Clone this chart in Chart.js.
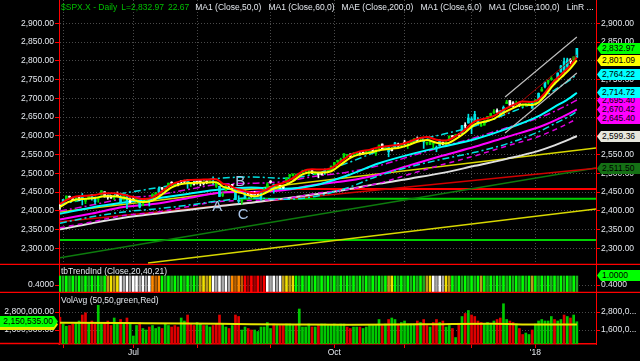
<!DOCTYPE html>
<html>
<head>
<meta charset="utf-8">
<script src="https://cdn.jsdelivr.net/npm/chart.js@4.4.1/dist/chart.umd.min.js"></script>
<style>
  html, body { margin: 0; padding: 0; background: #000; overflow: hidden; }
  body { width: 640px; height: 361px; position: relative; font-family: "Liberation Sans", Arial, sans-serif; }
  canvas { position: absolute; left: 0; }
  .lbl { position: absolute; white-space: nowrap; font-size: 8.5px; line-height: 10px; color: #e4e8ee; }
  .lbl span { margin-right: 7px; }
  .lbl span.g { margin-right: 4px; color: #00c000; }
  .tag { position: absolute; height: 11px; line-height: 11px; font-size: 8.5px; color: #000; white-space: nowrap; box-sizing: border-box; }
  .tagR { clip-path: polygon(0 50%, 4px 0, 100% 0, 100% 100%, 4px 100%); padding-left: 5px; }
  .tagL { clip-path: polygon(0 0, calc(100% - 4px) 0, 100% 50%, calc(100% - 4px) 100%, 0 100%); text-align: right; padding-right: 5px; }
  .wave { position: absolute; font-size: 15px; line-height: 15px; color: #a9c4e6; transform: translate(-50%, -50%); }
</style>
</head>
<body>
<canvas id="cPrice" width="640" height="265" style="top:0"></canvas>
<canvas id="cTrend" width="640" height="28" style="top:265px"></canvas>
<canvas id="cVol" width="640" height="68" style="top:293px"></canvas>
<div class="lbl" style="left:61px;top:2px"><span class="g">$SPX.X - Daily</span><span class="g">L=2,832.97</span><span class="g" style="margin-right:6px">22.67</span><span>MA1 (Close,50,0)</span><span>MA1 (Close,60,0)</span><span>MAE (Close,200,0)</span><span>MA1 (Close,6,0)</span><span>MA1 (Close,100,0)</span><span>LinR ...</span></div>
<div class="lbl" style="left:61px;top:266px">tbTrendInd (Close,20,40,21)</div>
<div class="lbl" style="left:61px;top:295px">VolAvg (50,50,green,Red)</div>
<div id="over"></div>
<script>
// daily bars, 31 May 2017 .. 22 Jan 2018 (index = trading day)
const closes = [
  2411.8,2430.1,2439.1,2436.1,2429.3,2433.1,2433.8,2431.8,2429.4,2440.4,
  2437.9,2432.5,2433.2,2453.5,2437.0,2435.6,2434.5,2438.3,2439.1,2419.4,
  2440.7,2419.7,2423.4,2429.0,2432.5,2409.8,2425.2,2427.4,2425.5,2443.3,
  2447.8,2459.3,2459.1,2460.6,2473.8,2473.5,2472.5,2469.9,2477.1,2477.8,
  2475.4,2472.1,2470.3,2476.4,2477.6,2472.2,2476.8,2480.9,2474.9,2474.0,
  2438.2,2441.3,2465.8,2464.6,2468.1,2430.0,2425.6,2428.4,2452.5,2444.0,
  2439.0,2443.1,2444.2,2446.3,2457.6,2471.7,2476.6,2457.9,2465.5,2465.1,
  2461.4,2488.1,2496.5,2498.4,2495.6,2500.2,2503.9,2506.7,2508.2,2500.6,
  2502.2,2496.7,2496.8,2507.0,2510.1,2519.4,2529.1,2534.6,2537.7,2552.1,
  2549.3,2544.7,2550.6,2555.2,2550.9,2553.2,2557.6,2559.4,2561.3,2562.1,
  2575.2,2565.0,2569.1,2557.2,2560.4,2581.1,2572.8,2575.3,2579.4,2579.9,
  2587.8,2591.1,2590.6,2594.4,2584.6,2582.3,2584.8,2578.9,2564.6,2585.6,
  2578.9,2582.1,2599.0,2597.1,2602.4,2601.4,2627.0,2626.1,2647.6,2642.2,
  2639.4,2629.6,2629.3,2637.0,2651.5,2660.0,2664.1,2662.9,2652.0,2675.8,
  2690.2,2681.5,2679.3,2684.6,2683.3,2680.5,2682.6,2687.5,2673.6,2695.8,
  2713.1,2724.0,2743.2,2747.7,2751.3,2748.2,2767.6,2786.2,2776.4,2802.6,
  2798.0,2810.3,2833.0
];
const opens = [
  2415.6,2415.6,2431.3,2437.8,2432.0,2432.4,2434.3,2436.4,2425.6,2434.2,
  2443.8,2424.1,2431.2,2442.6,2450.7,2439.3,2437.4,2434.2,2443.3,2436.0,
  2428.7,2442.4,2429.2,2431.2,2430.8,2423.4,2413.5,2424.5,2427.4,2435.8,
  2444.0,2449.2,2459.5,2455.9,2463.9,2475.6,2467.4,2472.0,2477.9,2479.2,
  2482.8,2469.1,2475.9,2477.1,2480.4,2476.0,2476.9,2477.1,2478.4,2465.4,
  2465.4,2441.0,2454.0,2468.7,2468.6,2462.0,2427.6,2425.5,2433.8,2444.9,
  2447.9,2444.7,2447.4,2431.9,2446.1,2462.7,2477.1,2470.4,2458.9,2468.1,
  2462.3,2474.5,2491.9,2493.9,2494.6,2495.6,2502.5,2506.3,2506.8,2507.2,
  2497.3,2499.4,2501.0,2505.2,2503.4,2509.0,2521.2,2530.3,2534.1,2540.9,
  2547.7,2551.4,2549.0,2550.3,2552.9,2555.7,2555.6,2557.2,2562.9,2553.4,
  2567.6,2578.1,2568.7,2566.5,2565.0,2570.3,2577.8,2575.0,2583.2,2579.5,
  2581.9,2587.5,2592.1,2592.0,2584.0,2580.2,2576.5,2577.8,2569.4,2572.7,
  2582.9,2579.5,2589.2,2600.3,2600.4,2602.7,2605.9,2627.8,2633.9,2645.1,
  2657.2,2639.8,2626.2,2628.4,2646.2,2652.2,2661.1,2667.6,2665.9,2660.6,
  2685.9,2694.0,2688.0,2683.0,2684.2,2679.1,2682.1,2686.1,2689.2,2683.7,
  2697.9,2719.3,2731.3,2742.7,2751.2,2745.6,2752.0,2770.2,2798.0,2785.2,
  2802.4,2802.6,2809.2
];
const highs = [
  2415.8,2430.1,2440.2,2439.5,2436.2,2435.3,2439.3,2446.2,2431.9,2441.5,
  2443.8,2433.9,2433.2,2453.8,2450.7,2442.2,2441.6,2441.0,2450.4,2442.0,
  2442.9,2442.4,2432.7,2439.0,2434.8,2424.3,2426.9,2432.3,2429.3,2445.8,
  2449.3,2463.5,2462.8,2460.9,2473.8,2477.6,2472.5,2473.1,2481.2,2481.7,
  2484.0,2473.5,2477.0,2478.5,2480.4,2476.0,2480.0,2480.9,2490.9,2474.4,
  2465.5,2448.1,2468.2,2468.7,2470.0,2462.0,2440.3,2430.6,2454.8,2448.9,
  2450.4,2451.7,2449.1,2449.2,2460.6,2475.0,2480.4,2471.9,2467.1,2468.6,
  2467.1,2488.9,2496.8,2498.4,2498.4,2500.2,2508.3,2507.8,2508.9,2507.2,
  2503.5,2502.5,2503.5,2511.8,2510.8,2519.4,2529.2,2535.1,2540.5,2552.5,
  2549.4,2551.8,2555.2,2555.2,2555.3,2557.7,2559.7,2559.7,2564.1,2562.4,
  2575.4,2578.3,2572.2,2567.4,2567.5,2582.9,2580.5,2578.0,2588.4,2581.1,
  2588.4,2593.4,2597.0,2594.4,2586.5,2583.2,2587.7,2579.7,2572.8,2590.1,
  2583.0,2584.6,2600.0,2600.9,2604.2,2606.4,2627.7,2634.9,2657.7,2650.6,
  2665.2,2648.7,2634.4,2640.5,2651.7,2660.3,2669.7,2671.9,2668.1,2679.6,
  2694.9,2694.2,2691.0,2692.6,2685.4,2682.7,2685.6,2687.7,2692.1,2695.9,
  2714.4,2729.3,2743.5,2748.5,2759.1,2750.8,2767.6,2787.9,2807.5,2807.0,
  2805.8,2810.3,2833.0
];
const lows = [
  2403.6,2413.9,2427.8,2434.3,2428.1,2424.8,2427.4,2415.7,2419.0,2430.8,
  2428.3,2418.5,2422.9,2441.8,2436.6,2430.7,2433.3,2430.0,2437.0,2419.4,
  2428.7,2405.7,2421.6,2428.7,2421.1,2407.7,2413.5,2422.0,2412.8,2435.8,
  2441.4,2446.7,2455.6,2450.3,2463.9,2468.4,2465.1,2466.3,2474.9,2474.9,
  2459.9,2464.7,2468.4,2471.1,2466.5,2468.9,2472.1,2475.9,2470.3,2462.1,
  2437.8,2437.9,2454.0,2460.7,2459.8,2430.0,2420.7,2417.4,2433.8,2441.4,
  2436.2,2441.9,2439.0,2428.2,2446.1,2462.7,2473.9,2447.0,2459.7,2460.3,
  2459.4,2474.5,2488.0,2492.1,2491.4,2493.2,2499.9,2503.2,2496.3,2499.0,
  2496.5,2488.0,2495.1,2496.8,2502.9,2507.0,2520.4,2528.9,2533.7,2540.0,
  2543.8,2541.6,2544.4,2547.8,2548.3,2552.0,2554.9,2554.7,2559.2,2547.9,
  2565.8,2564.3,2565.6,2544.0,2559.6,2565.9,2572.0,2572.6,2576.8,2566.2,
  2576.8,2585.7,2584.4,2585.7,2566.3,2575.6,2576.5,2566.6,2557.5,2572.7,
  2576.0,2576.6,2589.2,2595.7,2600.4,2598.9,2605.9,2620.3,2633.9,2605.5,
  2639.0,2627.7,2624.8,2628.4,2644.1,2651.5,2659.8,2662.9,2652.0,2659.1,
  2685.9,2680.7,2676.1,2682.4,2678.1,2677.9,2678.9,2682.7,2673.6,2682.4,
  2697.8,2719.1,2727.9,2737.6,2747.9,2736.1,2752.0,2769.6,2768.6,2778.4,
  2792.6,2798.2,2808.1
];
const volumes = [
  2450000,2000000,1850000,1900000,2000000,2100000,2200000,2600000,2750000,2100000,
  2200000,2000000,3250000,2000000,2100000,2200000,1900000,2400000,2000000,2300000,
  2100000,2400000,2000000,1200000,1900000,2100000,1700000,1600000,1800000,1900000,
  1700000,1800000,1700000,2000000,1900000,1800000,1900000,1800000,2400000,2200000,
  2600000,2000000,1900000,2100000,2000000,1900000,1900000,1800000,1900000,2000000,
  2600000,2000000,1800000,1700000,1900000,2600000,2500000,1600000,1800000,1700000,
  1600000,1600000,1500000,1800000,1800000,2100000,1700000,2000000,1900000,1900000,
  1900000,2000000,2000000,1900000,1900000,3000000,1800000,1800000,2000000,1800000,
  1800000,1900000,2000000,2000000,1900000,1900000,2000000,1900000,2000000,2000000,
  1800000,1700000,1800000,1800000,1800000,1700000,1800000,1900000,1900000,1900000,
  2300000,1900000,2000000,2300000,2400000,2300000,2000000,2100000,2200000,2000000,
  2000000,2000000,2200000,2100000,2300000,1900000,1800000,2100000,2300000,2100000,
  2200000,1800000,1900000,1700000,1100000,2000000,2500000,2700000,2900000,2600000,
  2500000,2200000,2100000,2000000,2100000,2000000,2200000,2300000,2400000,3350000,
  2300000,2200000,2100000,2000000,1700000,1300000,1400000,1300000,1600000,2000000,
  2200000,2300000,2200000,2200000,2500000,2300000,2200000,2300000,2600000,2500000,
  2400000,2600000,2150535
];
// tbTrendInd colour state per bar: 0/1 red, 2/3 orange, 4/5 grey/white, 6/7 tan/yellow, 8/9 green
const trendState = [
  9,8,9,8,9,8,9,8,9,8,9,8,9,8,9, 6,7,6,7, 5,4,5,4,5,5,4,5,4,5, 3,2,3,
  9,8,9,8,9,8,9,8,9,8,9,8, 6,7,6,7, 5,4,5,4,5,4, 3,2,3,2, 1,0,1,0,1,0,1,
  5,4,5,4,5, 6,7,6,7,
  9,8,9,8,9,8,9,8,9,8,9,8,9,8,9,8,9,8,9,8,9,8,9,8,9,8,9,8,9, 6,7,
  9,8,9,8,9,8,9,8,9,8, 6,7, 5,4,5,4, 7,6, 9,8,9,8,9,8,9,8,9, 6,
  9,8,9,8,9,8,9,8,9,8,9,8,9,8,9, 6, 9,8,9,8,9,8,9,8,9,8,9,8,9,8
];
const trendLevel = 1.0;

// moving averages
const fastDays = [0,1,2,3,5,8,11,14,17,20,23,26,29,32,35,38,41,44,47,49,51,53,55,57,59,61,64,67,70,73,
  76,79,82,85,88,91,94,97,100,103,106,109,112,115,118,121,124,127,130,133,136,139,142,145,148,150,152,154,156,158,160,162];
const ma6 = [2410,2415,2420.8,2424.4,2429.9,2432.3,2434.3,2439.1,2438.7,2434.6,2428.6,2423.3,2427.3,2443.7,2462.4,
  2471.2,2474.1,2474.9,2475.7,2476.1,2464.4,2459.8,2451.3,2447.1,2441.4,2438.8,2445.7,2459.1,2466.4,2479.2,
  2497.1,2502.5,2501.9,2505.4,2523.0,2541.3,2550.5,2554.5,2561.5,2565.0,2567.6,2574.8,2584.0,2588.5,2581.6,
  2579.2,2590.9,2608.8,2630.6,2637.5,2645.3,2661.1,2673.6,2683.2,2682.0,2688.9,2706.2,2729.2,2747.0,2762.9,2779.8,2801.1];
const maRed = [2418,2423,2428.8,2432.4,2437.9,2440.3,2442.3,2447.1,2446.7,2442.6,2436.6,2431.3,2435.3,2451.7,2470.4,
  2479.2,2482.1,2482.9,2483.7,2484.1,2472.4,2467.8,2459.3,2455.1,2449.4,2446.8,2453.7,2467.1,2474.4,2487.2,
  2505.1,2510.5,2509.9,2513.4,2531.0,2549.3,2558.5,2562.5,2569.5,2573.0,2575.6,2582.8,2592.0,2596.5,2589.6,
  2587.2,2598.9,2616.8,2638.6,2645.5,2653.3,2669.1,2681.6,2691.2,2690.0,2696.9,2714.2,2737.2,2755.0,2770.9,2787.8,2809.1];

const slowDays = [0,10,20,30,40,50,60,70,80,90,100,110,120,130,140,150,155,160,162];
const ma30 = [2392,2409,2422,2433,2445,2456.5,2462.4,2458.7,2468.3,2494.1,2526.8,2551.0,2571.1,2590.9,2618.4,2652.6,2677.0,2702.0,2714.7];
const ma30Up = [2417,2434,2447,2461,2475,2486.5,2490.4,2486.7,2498.3,2527.1,2559.8,2584.0,2604.1,2625.9,2658.4,2694.6,2722.0,2750.0,2764.2];
const ma30Dn = [2367,2384,2397,2405,2415,2426.5,2434.4,2430.7,2438.3,2461.1,2493.8,2518.0,2538.1,2555.9,2578.4,2610.6,2632.0,2654.0,2665.2];
const ma50 = [2377,2392.8,2410.1,2418.8,2433.7,2448.0,2450.4,2454.9,2469.2,2479.9,2497.0,2522.4,2547.3,2570.6,2597.0,2622.8,2640.5,2661.2,2670.4];
const ma50Up = [2399.2,2415.2,2432.7,2441.4,2456.5,2470.9,2473.3,2477.9,2492.3,2503.1,2520.4,2546.0,2571.1,2594.7,2621.3,2647.3,2665.2,2686.1,2695.4];
const ma50Dn = [2354.7,2370.4,2387.5,2396.2,2410.9,2425.1,2427.5,2431.9,2446.1,2456.7,2473.6,2498.8,2523.5,2546.5,2572.7,2598.2,2615.8,2636.3,2645.4];
const ma100 = [2350.5,2366.9,2381.5,2392.4,2402.4,2412.5,2421.6,2432.5,2444.0,2456.8,2472.5,2486.4,2501.1,2519.9,2538.5,2559.9,2574.4,2591.8,2599.4];

const volAvgDays = [0,20,40,60,75,90,105,120,135,150,162];
const volAvg = [2080000,2060000,2040000,1980000,1960000,1950000,1960000,1990000,2010000,1960000,1960000];

// drawn trend lines: [day, price] end points
const lineYellowHi = [[0, 2396.8], [168, 2567.5]];
const lineYellowLo = [[27.6, 2260.8], [168, 2404.8]];
const lineRed = [[0, 2370.7], [168, 2513.6]];
const lineGreen = [[0, 2275], [168, 2514]];
const levelRed = [[56.5, 2458], [168, 2458]];
const levelGreenHi = [[56, 2432], [168, 2432]];
const levelGreenLo = [[0, 2322], [168, 2322]];
const linRDays = [139.5, 162];
const linRUp = [2703.5, 2863.5];
const linRMid = [2655.5, 2815.5];
const linRDn = [2607.5, 2767.5];

// wave labels
const waveLabels = ["A", "B", "C"];
const waveDays = [49.3, 56.5, 57.4];
const wavePrices = [2415, 2482, 2394];

// axes
const monthStarts = [1, 23, 43, 66, 86, 108, 129, 149];
const monthLabels = ["", "Jul", "", "", "Oct", "", "", "'18"];
const priceTicks = [2300,2350,2400,2450,2500,2550,2600,2650,2700,2750,2800,2850,2900];
const volTicks = [1600000, 2800000];
const trendTicks = [0.4];

// last-value tags on the right price axis
const priceTagVals = [2511.5, 2599.36, 2645.4, 2670.42, 2695.40, 2714.72, 2764.22, 2801.09, 2832.97];
const priceTagCols = ["#157015", "#e6e6dc", "#ff00ff", "#ff00ff", "#ff00ff", "#00ffff", "#00ffff", "#ffff00", "#00ff00"];

const RED = "#ff0000";
const GRID = "#4a4a4a";
const TXT = "#e4e8ee";
const FONT = { family: "Liberation Sans, Arial, sans-serif", size: 8.5 };
const X_MIN = -0.3, X_MAX = 168;

function frmt(v, d) {
  return v.toLocaleString("en-US", { minimumFractionDigits: d, maximumFractionDigits: d });
}

function pts(days, vals) {
  return days.map((d, i) => ({ x: d, y: vals[i] }));
}
function seg(p) {
  return p.map((q) => ({ x: q[0], y: q[1] }));
}

const frameLine = {
  id: "frameLine",
  afterDraw(chart, args, opts) {
    const ctx = chart.ctx;
    const y = Math.round(chart.chartArea.bottom) - 0.5;
    ctx.save();
    ctx.strokeStyle = RED;
    ctx.lineWidth = 1.5;
    ctx.beginPath();
    ctx.moveTo(opts.x0 || 0, y);
    ctx.lineTo(opts.x1 || chart.width, y);
    ctx.stroke();
    ctx.restore();
  },
};

// no label padding: the panes must fill their canvas exactly
function noPad(s) {
  s.paddingTop = 0;
  s.paddingBottom = 0;
  s.paddingLeft = 0;
  s.paddingRight = 0;
}

function xScale(showLabels, grid) {
  return {
    type: "linear", min: X_MIN, max: X_MAX, offset: false,
    afterBuildTicks: (s) => { s.ticks = monthStarts.map((v) => ({ value: v })); },
    afterFit: (s) => { s.height = showLabels ? 17 : 0; noPad(s); },
    grid: { display: true, drawOnChartArea: grid, offset: false, color: GRID, drawTicks: showLabels, tickLength: 4, tickColor: RED, tickBorderDash: [] },
    border: { display: showLabels, color: RED, width: 1.5, dash: [1, 2] },
    ticks: { display: showLabels, color: TXT, font: FONT, padding: 0, maxRotation: 0, autoSkip: false,
      callback: (v, i) => monthLabels[i] },
  };
}

function yScale(pos, min, max, tickVals, label) {
  return {
    type: "linear", position: pos, min: min, max: max,
    afterBuildTicks: (s) => { s.ticks = tickVals.map((v) => ({ value: v })); },
    afterFit: (s) => { s.width = pos == "left" ? 59 : 44; noPad(s); },
    grid: { drawOnChartArea: pos == "left", color: GRID, tickLength: 4, tickColor: RED, tickBorderDash: [] },
    border: { color: RED, width: 1, dash: [1, 2] },
    ticks: { color: TXT, font: FONT, padding: 1, autoSkip: false, callback: label },
  };
}

function lineDs(data, color, width, dash) {
  return { type: "line", data: data, borderColor: color, borderWidth: width, borderDash: dash || [],
    pointRadius: 0, fill: false, cubicInterpolationMode: "monotone" };
}

function baseOpts(scales, frame) {
  return {
    responsive: false, animation: false, events: [],
    layout: { padding: 0 },
    scales: scales,
    plugins: { legend: { display: false }, tooltip: { enabled: false }, frameLine: frame },
  };
}

const days = closes.map((c, i) => i);

// wide-range bars are painted cyan, otherwise green up / white down
function candleColor(i) {
  if (highs[i] - lows[i] >= 15) return "#00e8e8";
  return closes[i] >= opens[i] ? "#00e000" : "#ffffff";
}

// ---- price pane
const priceChart = new Chart(document.getElementById("cPrice"), {
  type: "bar",
  data: {
    datasets: [
      lineDs(pts(fastDays, ma6), "#ffff00", 2),
      lineDs(pts(fastDays, maRed), "#ff0000", 2),
      lineDs(seg([[linRDays[0], linRUp[0]], [linRDays[1], linRUp[1]]]), "#bdbdbd", 1.2),
      lineDs(seg([[linRDays[0], linRMid[0]], [linRDays[1], linRMid[1]]]), "#a00000", 1),
      lineDs(seg([[linRDays[0], linRDn[0]], [linRDays[1], linRDn[1]]]), "#bdbdbd", 1.2),
      { type: "bar", data: days.map((i) => ({ x: i, y: [Math.min(opens[i], closes[i]), Math.max(opens[i], closes[i])] })),
        backgroundColor: (c) => candleColor(c.dataIndex), barThickness: 2, grouped: false, minBarLength: 1 },
      { type: "bar", data: days.map((i) => ({ x: i, y: [lows[i], highs[i]] })),
        backgroundColor: (c) => candleColor(c.dataIndex), barThickness: 1, grouped: false },
      lineDs(pts(slowDays, ma30), "#00ffff", 2),
      lineDs(pts(slowDays, ma30Up), "#00e0e0", 1.5, [7, 3, 2, 3]),
      lineDs(pts(slowDays, ma30Dn), "#00e0e0", 1.5, [7, 3, 2, 3]),
      lineDs(pts(slowDays, ma50), "#ff00ff", 2),
      lineDs(pts(slowDays, ma50Up), "#e000e0", 1.5, [7, 3, 2, 3]),
      lineDs(pts(slowDays, ma50Dn), "#e000e0", 1.5, [5, 4]),
      lineDs(pts(slowDays, ma100), "#e0e0e0", 2),
      lineDs(seg(lineYellowHi), "#d8d800", 1.5),
      lineDs(seg(lineYellowLo), "#d8d800", 1.5),
      lineDs(seg(lineRed), "#d00000", 1.5),
      lineDs(seg(lineGreen), "#0d7a0d", 1.5),
      lineDs(seg(levelRed), "#ff0000", 2),
      lineDs(seg(levelGreenHi), "#00d000", 2),
      lineDs(seg(levelGreenLo), "#00d000", 2),
    ],
  },
  options: baseOpts({
    x: xScale(false, true),
    y: yScale("left", 2255.5, 2962.1, priceTicks, (v) => frmt(v, 2)),
    yR: yScale("right", 2255.5, 2962.1, priceTicks, (v) => frmt(v, 2)),
  }, { x0: 0, x1: 640 }),
  plugins: [frameLine],
});

// ---- trend indicator pane
const trendCols = ["#a00000", "#ff0000", "#b86000", "#ff8a00", "#a8a8a8", "#ffffff", "#b89a20", "#f0e000", "#1fa81f", "#00ff00"];
const trendChart = new Chart(document.getElementById("cTrend"), {
  type: "bar",
  data: {
    datasets: [
      { data: days.map((i) => ({ x: i, y: trendLevel })), base: -0.5, grouped: false, barThickness: 2,
        backgroundColor: (c) => trendCols[trendState[c.dataIndex]] },
    ],
  },
  options: baseOpts({
    x: xScale(false, false),
    y: yScale("left", -0.133, 1.733, trendTicks, (v) => frmt(v, 4)),
    yR: yScale("right", -0.133, 1.733, trendTicks, (v) => frmt(v, 4)),
  }, { x0: 0, x1: 640 }),
  plugins: [frameLine],
});

// ---- volume pane
const volChart = new Chart(document.getElementById("cVol"), {
  type: "bar",
  data: {
    datasets: [
      lineDs(pts(volAvgDays, volAvg), "#e8e800", 2),
      { type: "bar", data: days.map((i) => ({ x: i, y: volumes[i] })), grouped: false, barThickness: 2,
        backgroundColor: (c) => (c.dataIndex > 0 && closes[c.dataIndex] < closes[c.dataIndex - 1]) || c.dataIndex == 0 ? "#e00000" : "#00c800" },
    ],
  },
  options: baseOpts({
    x: xScale(true, false),
    y: yScale("left", 667000, 4067000, volTicks, (v) => frmt(v, 2)),
    yR: yScale("right", 667000, 4067000, volTicks, (v) => frmt(v, 2).slice(0, 7) + "..."),
  }, { x0: 0, x1: 59 }),
  plugins: [frameLine],
});

// ---- overlays: value tags and wave letters
const over = document.getElementById("over");
function addTag(cls, left, top, width, bg, text) {
  const d = document.createElement("div");
  d.className = "tag " + cls;
  d.style.left = left + "px";
  d.style.top = top + "px";
  d.style.width = width + "px";
  d.style.background = bg;
  d.textContent = text;
  over.appendChild(d);
}
priceTagVals.forEach((v, i) => {
  const y = priceChart.scales.yR.getPixelForValue(v);
  addTag("tagR", 597, Math.round(y - 5.5), 43, priceTagCols[i], frmt(v, 2));
});
addTag("tagR", 597, Math.round(265 + trendChart.scales.yR.getPixelForValue(trendLevel) - 5.5), 43, "#00ff00", frmt(trendLevel, 4));
const vy = 293 + volChart.scales.y.getPixelForValue(volAvg[volAvg.length - 1]);
addTag("tagL", 0, Math.round(vy - 5.5), 58, "#e8e800", "");
const ly = 293 + volChart.scales.y.getPixelForValue(volumes[volumes.length - 1]);
addTag("tagL", 0, Math.round(ly - 5.5), 58, "#00ff00", frmt(volumes[volumes.length - 1], 2));

waveLabels.forEach((t, i) => {
  const d = document.createElement("div");
  d.className = "wave";
  d.style.left = priceChart.scales.x.getPixelForValue(waveDays[i]) + "px";
  d.style.top = priceChart.scales.y.getPixelForValue(wavePrices[i]) + "px";
  d.textContent = t;
  over.appendChild(d);
});
</script>
</body>
</html>
